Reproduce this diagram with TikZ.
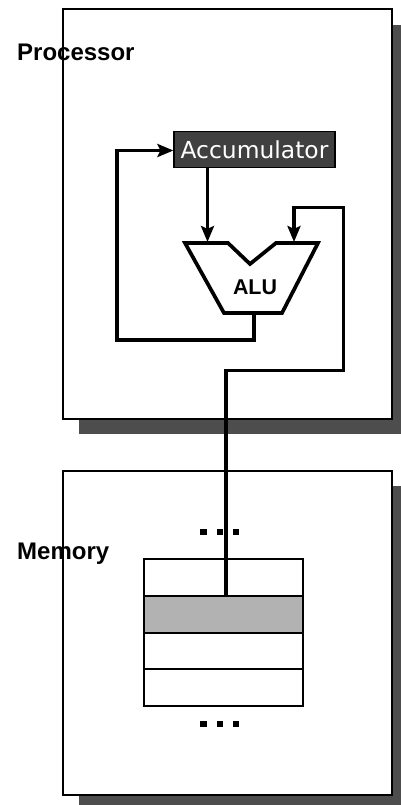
\documentclass[tikz,border=0pt]{standalone}
\usepackage{xcolor}
\usepackage{fontspec}
\setmainfont{Liberation Sans}
\newfontfamily\accfont{DejaVu Sans}
\usepackage{tikz}
\usetikzlibrary{arrows.meta,positioning}
\definecolor{shadowgray}{HTML}{4D4D4D}
\definecolor{accgray}{HTML}{404040}
\definecolor{cellgray}{HTML}{B2B2B2}

\begin{document}
\begin{tikzpicture}[
    x=1pt, y=-1pt,
    node distance=36.75pt,
    panel/.style={rectangle, draw, fill=white, line width=2pt, anchor=north west, minimum width=329pt, inner sep=0pt, outer sep=0pt},
    backing/.style={rectangle, fill=shadowgray, anchor=north west, minimum width=322pt, inner sep=0pt, outer sep=0pt},
    cell/.style={rectangle, draw, fill=white, line width=2pt, minimum width=159.5pt, minimum height=36.75pt, inner sep=0pt},
    title/.style={anchor=west, inner sep=0pt, font=\bfseries\fontsize{24}{28}\selectfont},
    dot/.style={rectangle, fill=black, minimum size=6.5pt, inner sep=0pt},
    arrow/.style={-{Stealth[length=16pt,width=13pt,inset=3pt]}, line width=3.7pt},
]
    \useasboundingbox (0,0) rectangle (401,805);

    % processor
    \node[backing, minimum height=409pt] (procshadow) at (79,25) {};
    \node[panel, minimum height=409pt] (processor) at (62.5,9.5) {};
    \node[title] (proclabel) at (17,52) {Processor};

    % memory
    \node[backing, minimum height=319pt] (memshadow) at (79,486) {};
    \node[panel, minimum height=324pt] (memory) at (62.5,470.5) {};
    \node[title] (memlabel) at (17,554) {Memory};

    \node[cell] (cella) at (223.25,577.5) {};
    \node[cell, fill=cellgray, below of=cella] (cellb) {};
    \node[cell, below of=cellb] (cellc) {};
    \node[cell, below of=cellc] (celld) {};

    \foreach \i/\x in {1/203.5,2/220,3/236} {
        \node[dot] (top\i) at (\x,532) {};
        \node[dot] (bot\i) at (\x,724) {};
    }

    % accumulator and alu
    \node[rectangle, draw, fill=accgray, line width=1.2pt, text=white, inner sep=0pt,
          minimum width=161pt, minimum height=36pt, font=\accfont\fontsize{23.4}{26}\selectfont]
          (acc) at (254.5,149.5) {Accumulator};
    \draw[line width=3.7pt, line join=miter] (185,243) -- (228,243) -- (250,264) -- (276,243)
        -- (318,243) -- (282,313) -- (224,313) -- cycle;
    \node[inner sep=0pt, font=\bfseries\fontsize{21.4}{24}\selectfont] (alu) at (255,287) {ALU};
    \coordinate (aluleft) at (207.5,242);
    \coordinate (aluright) at (294,242);
    \coordinate (aluout) at (254,313);

    \coordinate (backa) at (254,340);
    \coordinate (backb) at (117,340);
    \coordinate (backc) at (117,150.5);
    \coordinate (busa) at (294,207.5);
    \coordinate (busb) at (343.5,207.5);
    \coordinate (busc) at (343.5,370.5);
    \coordinate (busd) at (226,370.5);
    \coordinate (buse) at (226,596.5);

    \draw[arrow] (acc.south -| aluleft) -- (aluleft);
    \draw[arrow] (aluout) -- (backa) -- (backb) -- (backc) -- (acc.west |- backc);
    \draw[arrow] (buse) -- (busd) -- (busc) -- (busb) -- (busa) -- (aluright);
\end{tikzpicture}
\end{document}
